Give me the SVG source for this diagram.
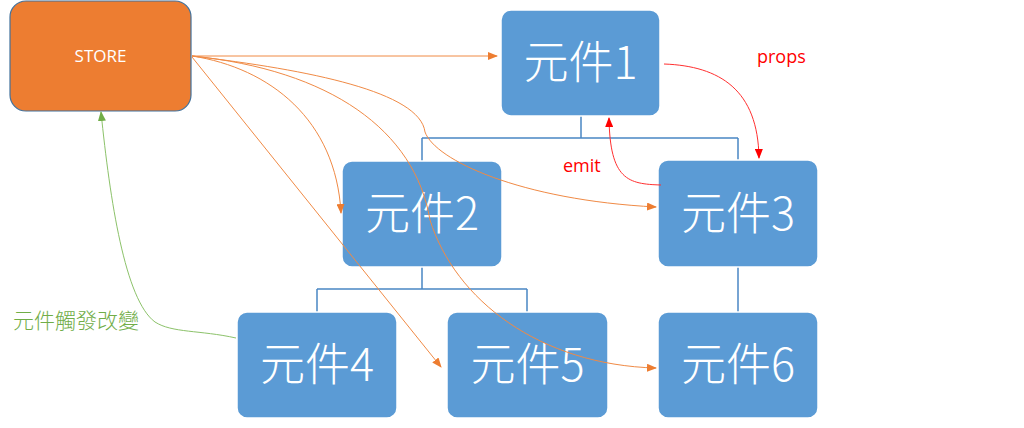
<svg xmlns="http://www.w3.org/2000/svg" width="1024" height="428" viewBox="0 0 1024 428">
<style>
.node rect{fill:#5B9BD5;stroke:#ffffff;stroke-width:1.5}
.node text{fill:#ffffff;font-family:"Noto Sans CJK TC","Liberation Sans",sans-serif;font-size:45px;font-weight:300;text-anchor:middle}
.tree{fill:none;stroke:#4a86c4;stroke-width:1.5}
.or{fill:none;stroke:#F08A45;stroke-width:1}
.rd{fill:none;stroke:#ff3030;stroke-width:1}
.gr{fill:none;stroke:#8CC26A;stroke-width:1}
.lbl{font-family:"Open Sans","Liberation Sans",sans-serif}
</style>
<defs>
<marker id="ao" markerUnits="userSpaceOnUse" markerWidth="10" markerHeight="8" refX="9" refY="4" orient="auto"><path d="M0,0 L10,4 L0,8 z" fill="#ED7D31"/></marker>
<marker id="ar" markerUnits="userSpaceOnUse" markerWidth="10" markerHeight="8" refX="9" refY="4" orient="auto"><path d="M0,0 L10,4 L0,8 z" fill="#ff0000"/></marker>
<marker id="ag" markerUnits="userSpaceOnUse" markerWidth="10" markerHeight="8" refX="9" refY="4" orient="auto"><path d="M0,0 L10,4 L0,8 z" fill="#70AD47"/></marker>
</defs>
<rect width="1024" height="428" fill="#ffffff"/>
<g id="tree-lines">
<path class="tree" d="M581,116 V138 M422,138 H738 M422,138 V161 M738,138 V160"/>
<path class="tree" d="M422,267 V289 M317,289 H527 M317,289 V312 M527,289 V312"/>
<path class="tree" d="M738,267 V312"/>
</g>
<g id="store">
<rect x="10" y="1" width="181" height="110" rx="16" fill="#ED7D31" stroke="#41719C" stroke-width="1.2"/>
<text x="100.5" y="62" fill="#ffffff" font-family="'Open Sans','Liberation Sans',sans-serif" font-size="17" text-anchor="middle">STORE</text>
</g>
<g id="n1" class="node"><rect x="501" y="10" width="159" height="106" rx="10"/><text x="580.5" y="79">元件1</text></g>
<g id="n2" class="node"><rect x="342" y="161" width="160" height="106" rx="10"/><text x="422" y="230">元件2</text></g>
<g id="n3" class="node"><rect x="658" y="160" width="160" height="107" rx="10"/><text x="738" y="230">元件3</text></g>
<g id="n4" class="node"><rect x="237" y="312" width="160" height="106" rx="10"/><text x="317" y="381">元件4</text></g>
<g id="n5" class="node"><rect x="447" y="312" width="161" height="106" rx="10"/><text x="527.5" y="381">元件5</text></g>
<g id="n6" class="node"><rect x="658" y="312" width="160" height="106" rx="10"/><text x="738" y="381">元件6</text></g>
<g id="connectors">
<path class="or" d="M192,56 L497,56" marker-end="url(#ao)"/>
<path class="or" d="M192,56 C270,68 336,120 341,213" marker-end="url(#ao)"/>
<path class="or" d="M192,57 L441,367" marker-end="url(#ao)"/>
<path class="or" d="M192,56 C330,70 415,130 430,220 C455,300 540,365 656,368" marker-end="url(#ao)"/>
<path class="or" d="M192,56 C310,70 420,92 425,132 C435,160 520,200 656,207" marker-end="url(#ao)"/>
<path class="rd" d="M664,64 C720,66 758,90 759,158" marker-end="url(#ar)"/>
<path class="rd" d="M661,185 C628,184 610,180 609,118" marker-end="url(#ar)"/>
<path class="gr" d="M236,338 C200,330 172,333 155,322 C125,300 110,200 101,112" marker-end="url(#ag)"/>
</g>
<g id="labels">
<text class="lbl" x="757" y="63" fill="#ff0000" font-size="18">props</text>
<text class="lbl" x="563" y="172" fill="#ff0000" font-size="18">emit</text>
<text x="13" y="328" fill="#70AD47" font-family="'Noto Sans CJK TC',sans-serif" font-size="21" font-weight="300">元件觸發改變</text>
</g>
</svg>
